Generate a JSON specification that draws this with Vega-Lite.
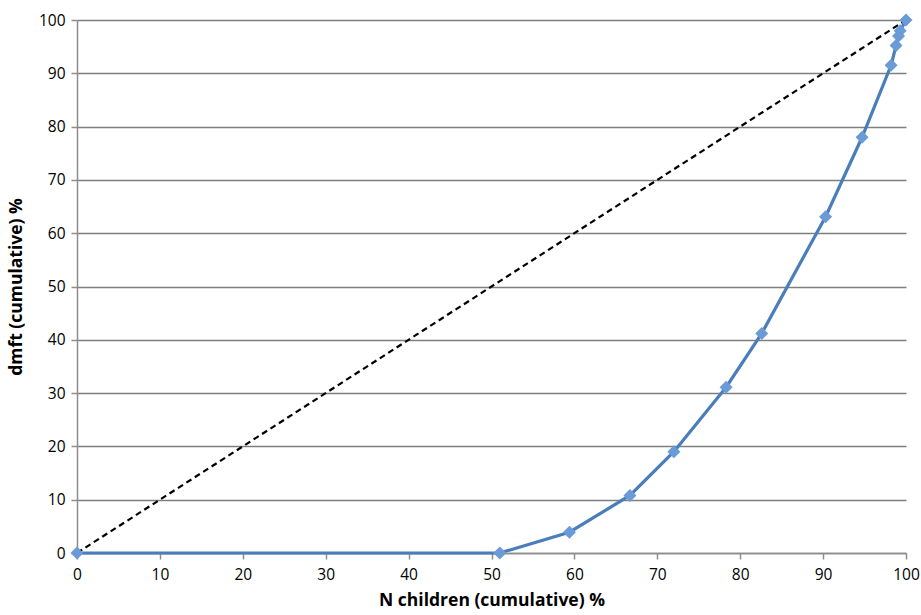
{
  "$schema": "https://vega.github.io/schema/vega-lite/v6.json",
  "width": 829,
  "height": 533,
  "autosize": "none",
  "padding": {"left": 77, "top": 20, "right": 15, "bottom": 62},
  "background": "white",
  "config": {
    "view": {"stroke": null},
    "font": "Open Sans",
    "axis": {
      "labelFont": "Open Sans",
      "titleFont": "Open Sans",
      "labelFontSize": 15.5,
      "titleFontSize": 17.5,
      "titleFontWeight": "bold",
      "labelColor": "#000000",
      "titleColor": "#000000",
      "domainColor": "#8c8c8c",
      "tickColor": "#8c8c8c",
      "gridColor": "#7f7f7f",
      "gridWidth": 1.5,
      "domainWidth": 1.5,
      "tickWidth": 1.5,
      "tickSize": 6,
      "labelFlush": false
    }
  },
  "datasets": {
    "observed": [
      {"children": 0, "dmft": 0},
      {"children": 51.0, "dmft": 0},
      {"children": 59.4, "dmft": 3.9},
      {"children": 66.7, "dmft": 10.8},
      {"children": 72.0, "dmft": 19.0},
      {"children": 78.3, "dmft": 31.1},
      {"children": 82.6, "dmft": 41.2},
      {"children": 90.3, "dmft": 63.1},
      {"children": 94.7, "dmft": 78.0},
      {"children": 98.2, "dmft": 91.5},
      {"children": 98.8, "dmft": 95.2},
      {"children": 99.1, "dmft": 97.0},
      {"children": 99.3, "dmft": 98.0},
      {"children": 100, "dmft": 100}
    ],
    "equality": [
      {"children": 0, "dmft": 0},
      {"children": 100, "dmft": 100}
    ]
  },
  "layer": [
    {
      "data": {"name": "equality"},
      "mark": {"type": "line", "color": "#000000", "strokeWidth": 2.2, "strokeDash": [6, 4]},
      "encoding": {
        "x": {
          "field": "children", "type": "quantitative",
          "scale": {"domain": [0, 100], "nice": false},
          "axis": {"values": [0,10,20,30,40,50,60,70,80,90,100], "grid": false, "title": "N children (cumulative) %", "titlePadding": 9, "labelPadding": 8}
        },
        "y": {
          "field": "dmft", "type": "quantitative",
          "scale": {"domain": [0, 100], "nice": false},
          "axis": {"values": [0,10,20,30,40,50,60,70,80,90,100], "grid": true, "title": "dmft (cumulative) %", "titlePadding": 13, "labelPadding": 6}
        }
      }
    },
    {
      "data": {"name": "observed"},
      "mark": {"type": "line", "color": "#4a7ebb", "strokeWidth": 3.2},
      "encoding": {
        "x": {"field": "children", "type": "quantitative"},
        "y": {"field": "dmft", "type": "quantitative"}
      }
    },
    {
      "data": {"name": "observed"},
      "mark": {"type": "point", "shape": "diamond", "filled": true, "color": "#6b9bd6", "size": 170, "opacity": 1},
      "encoding": {
        "x": {"field": "children", "type": "quantitative"},
        "y": {"field": "dmft", "type": "quantitative"}
      }
    }
  ]
}
